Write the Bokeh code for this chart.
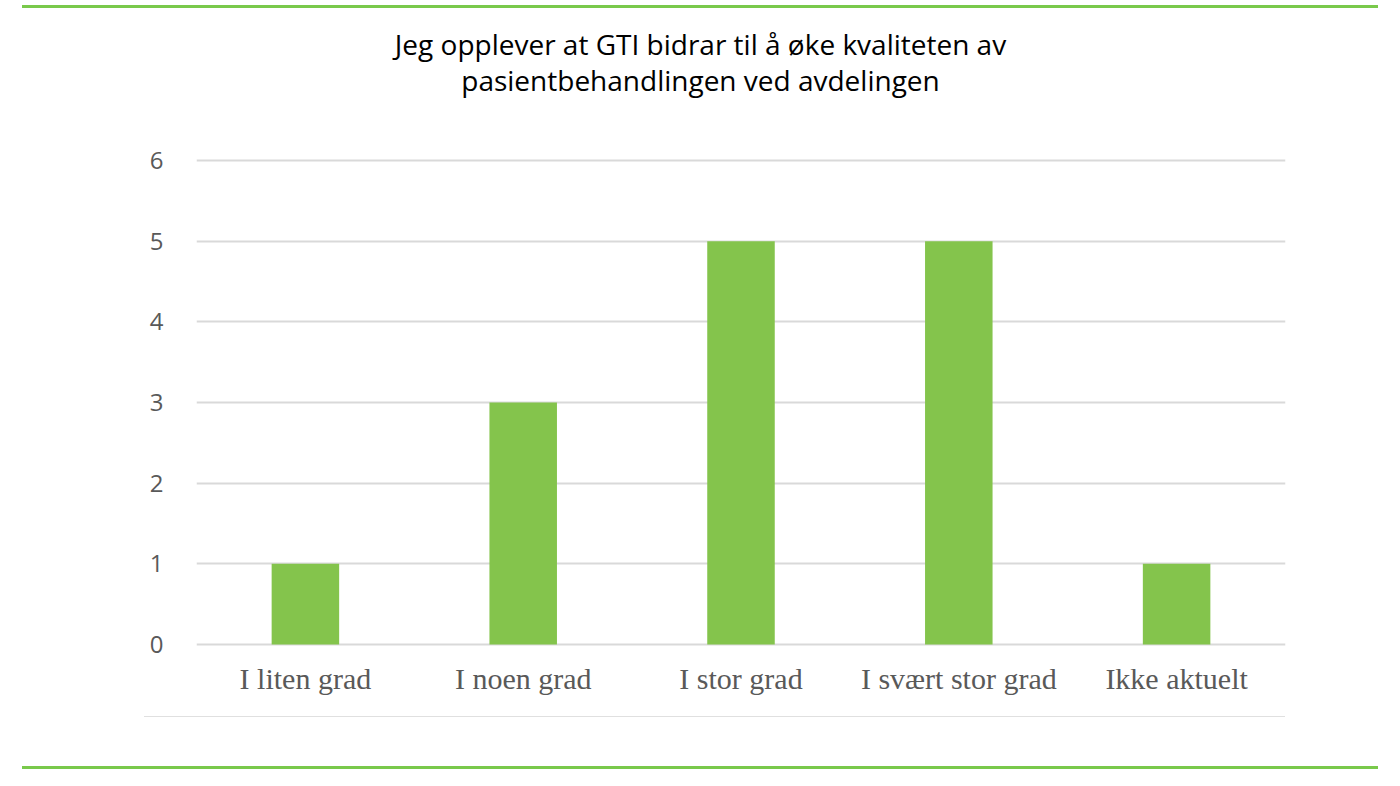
from bokeh.plotting import figure
from bokeh.models import Range1d, FixedTicker, Div
from bokeh.layouts import column
from bokeh.core.properties import value
from bokeh.embed import file_html
from bokeh.resources import INLINE

# Data
categories = ["I liten grad", "I noen grad", "I stor grad", "I svært stor grad", "Ikke aktuelt"]
counts = [1, 3, 5, 5, 1]
y_ticks = [0, 1, 2, 3, 4, 5, 6]
title_lines = ["Jeg opplever at GTI bidrar til å øke kvaliteten av",
               "pasientbehandlingen ved avdelingen"]

W = 1400
GREEN_LINE = "#79C94B"

# --- main chart ---
unit = 484 / 6.0
pad = 2 / unit
p = figure(x_range=categories, y_range=Range1d(-pad, 6 + pad),
           width=W, height=580, frame_width=1089, frame_height=488,
           min_border_left=196, min_border_right=115,
           min_border_top=28, min_border_bottom=64,
           output_backend="svg", toolbar_location=None)

p.vbar(x=categories, top=counts, width=0.31, color="#84C44C", line_color=None)

p.outline_line_color = None
p.background_fill_color = "white"
p.border_fill_color = "white"
p.xgrid.grid_line_color = None
p.ygrid.grid_line_color = "#D9D9D9"
p.ygrid.grid_line_width = 2
p.ygrid.level = "underlay"

p.yaxis.ticker = FixedTicker(ticks=y_ticks)
p.yaxis.axis_line_color = None
p.yaxis.major_tick_line_color = None
p.yaxis.minor_tick_line_color = None
p.yaxis.major_label_text_font = "Open Sans"
p.yaxis.major_label_text_font_size = "24px"
p.yaxis.major_label_text_color = "#595959"
p.yaxis.major_label_standoff = 27

p.xaxis.axis_line_color = None
p.xaxis.major_tick_line_color = None
p.xaxis.minor_tick_line_color = None
p.xaxis.major_label_text_font = "Liberation Serif"
p.xaxis.major_label_text_font_size = "30px"
p.xaxis.major_label_text_color = "#595959"
p.xaxis.major_label_standoff = 9

# --- title figure (its frame is aligned with the main frame: 196..1285) ---
TOP_DIV_H = 20
top_h = 130 - TOP_DIV_H
top = figure(width=W, height=top_h, x_range=Range1d(196, 1285), y_range=Range1d(top_h, 0),
             min_border_left=196, min_border_right=115, min_border_top=0, min_border_bottom=0,
             x_axis_location=None, y_axis_location=None,
             output_backend="svg", toolbar_location=None)
top.outline_line_color = None
top.border_fill_color = "white"
top.xgrid.visible = False
top.ygrid.visible = False
top.text(x=[700, 700], y=[43 - TOP_DIV_H, 79 - TOP_DIV_H], text=title_lines, text_align="center",
         text_baseline="middle", text_font=value("Open Sans"),
         text_font_size="28px", text_color="#000000")

# --- decorative rules (HTML) ---
top_rule = Div(text="", width=1356, height=3, margin=(5, 22, 12, 22),
               styles={"background-color": GREEN_LINE})
bottom_rules = Div(width=W, height=76, margin=(0, 0, 0, 0),
                   text='<div style="height:6px"></div>'
                        '<div style="width:1141px;height:1px;margin-left:144px;background:#E0E0E0"></div>'
                        '<div style="height:49px"></div>'
                        '<div style="width:1356px;height:3px;margin-left:22px;background:%s"></div>' % GREEN_LINE)

layout = column(top_rule, top, p, bottom_rules, spacing=0)
open("out.html", "w").write(file_html(layout, INLINE))
